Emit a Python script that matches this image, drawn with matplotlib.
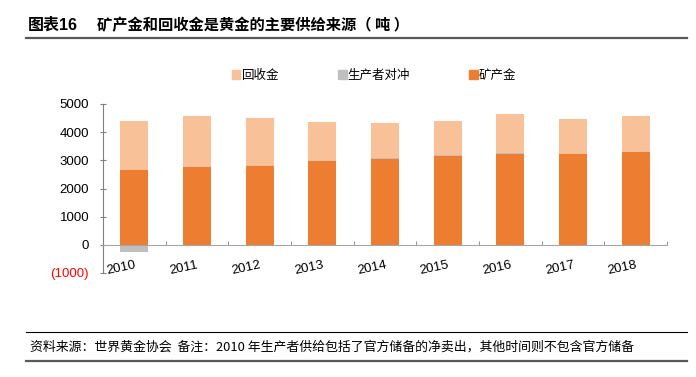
import numpy as np
import matplotlib.pyplot as plt
from matplotlib.lines import Line2D
from matplotlib.patches import Patch

plt.rcParams['font.family'] = ['Liberation Sans', 'Noto Sans CJK SC', 'DejaVu Sans']

years = ['2010', '2011', '2012', '2013', '2014', '2015', '2016', '2017', '2018']
mine = [2660, 2780, 2800, 2990, 3060, 3170, 3220, 3220, 3300]
hedging = [-240, -20, -45, -35, 30, 10, 30, -30, -30]
recycling = [1740, 1785, 1690, 1360, 1225, 1230, 1385, 1240, 1275]

yticks = [-1000, 0, 1000, 2000, 3000, 4000, 5000]
ytick_labels = ['(1000)', '0', '1000', '2000', '3000', '4000', '5000']

c_mine = '#ED7D31'
c_rec = '#F8C198'
c_hedge = '#BFBFBF'

fig = plt.figure(figsize=(6.96, 3.77), dpi=100)
ax = fig.add_axes([103/696, 1-273/377, 564/696, 169/377])

x = np.arange(len(years))
w = 0.45
mine = np.array(mine)
hedging = np.array(hedging)
recycling = np.array(recycling)

ax.bar(x, mine, w, color=c_mine, zorder=2)
pos_h = np.where(hedging > 0, hedging, 0)
neg_h = np.where(hedging < 0, hedging, 0)
ax.bar(x, pos_h, w, bottom=mine, color=c_hedge, zorder=2)
ax.bar(x, neg_h, w, color=c_hedge, zorder=2)
ax.bar(x, recycling, w, bottom=mine + pos_h, color=c_rec, zorder=2)

ax.set_xlim(-0.5, len(years) - 0.5)
ax.set_ylim(-1000, 5000)

for s in ['top', 'right']:
    ax.spines[s].set_visible(False)
ax.spines['bottom'].set_position(('data', 0))
ax.spines['bottom'].set_color('#A6A6A6')
ax.spines['bottom'].set_zorder(3)
ax.spines['left'].set_color('#808080')
ax.spines['left'].set_linewidth(0.8)

ax.set_yticks(yticks)
ax.set_yticklabels(ytick_labels, fontsize=9.5)
ax.get_yticklabels()[0].set_color('red')
ax.tick_params(axis='y', direction='inout', length=4, width=0.8, color='#808080', pad=8)

ax.set_xticks(x)
ax.set_xticklabels(years, fontsize=9.5, rotation=12, ha='right', rotation_mode='anchor')
ax.set_xticks(np.arange(-0.5, len(years)), minor=True)
ax.tick_params(axis='x', which='major', length=0, pad=10)
ax.tick_params(axis='x', which='minor', direction='in', length=3, color='#808080')

handles = [Patch(color=c_rec, label='回收金'),
           Patch(color=c_hedge, label='生产者对冲'),
           Patch(color=c_mine, label='矿产金')]
fig.legend(handles=handles, loc='center', bbox_to_anchor=(374/696, 1-75/377), ncol=3,
           frameon=False, handlelength=0.7, handleheight=0.7,
           handletextpad=0.1, columnspacing=4.7,
           prop={'family': ['Noto Sans CJK SC'], 'size': 9})

fig.text(28/696, 1-25/377, '图表16', fontsize=11.5, fontweight='bold', va='center',
         family=['Liberation Sans', 'Noto Sans CJK SC'])
fig.text(97/696, 1-25/377, '矿产金和回收金是黄金的主要供给来源（ 吨 ）', fontsize=11, fontweight='bold',
         va='center', family=['Noto Sans CJK SC'])
fig.add_artist(Line2D([26/696, 687/696], [1-37.7/377]*2, color='#595959', lw=1.6))
fig.add_artist(Line2D([26/696, 687/696], [1-332/377]*2, color='black', lw=0.8))
fig.add_artist(Line2D([26/696, 687/696], [1-361/377]*2, color='#595959', lw=1.6))
fig.text(30/696, 1-347/377,
         '资料来源：世界黄金协会  备注：2010 年生产者供给包括了官方储备的净卖出，其他时间则不包含官方储备',
         fontsize=9.3, va='center', family=['Noto Sans CJK SC', 'DejaVu Sans'])

fig.savefig('out.png', dpi=100)
